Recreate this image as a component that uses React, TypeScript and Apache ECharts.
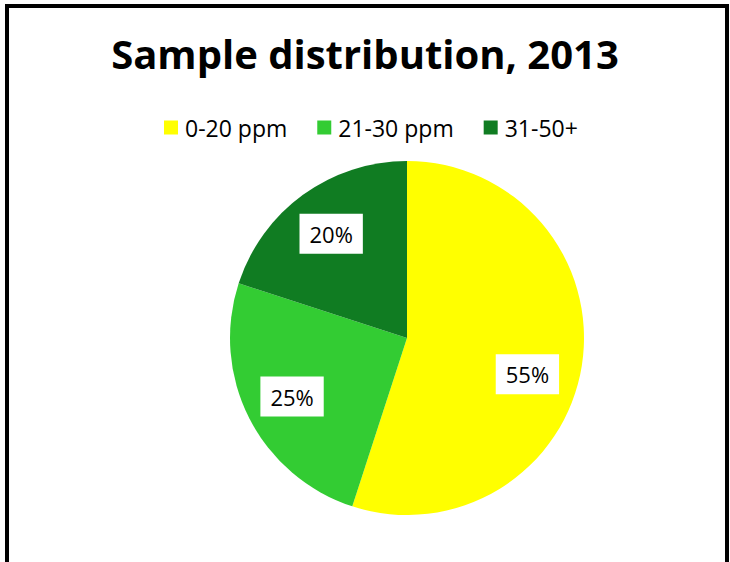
import React, { useEffect, useRef } from "react";
import * as echarts from "echarts";

const categories = ["0-20 ppm", "21-30 ppm", "31-50+"];
const values = [55, 25, 20];
const colors = ["#FFFF00", "#33CC33", "#107C22"];
const titleText = "Sample distribution, 2013";

const FONT = "Open Sans";

export default function App() {
  const ref = useRef<HTMLDivElement>(null);
  useEffect(() => {
    if (!ref.current) return;
    const chart = echarts.init(ref.current, undefined, { renderer: "svg" });
    const labelOffsets: Record<number, number[]> = { 0: [-7, 16] };
    chart.setOption({
      animation: false,
      backgroundColor: "#ffffff",
      title: {
        text: titleText,
        left: "center",
        top: 28,
        textStyle: { fontFamily: FONT, fontWeight: "bold", fontSize: 40, color: "#000" },
      },
      legend: {
        data: categories,
        top: 111,
        left: 159,
        icon: "rect",
        itemWidth: 14,
        itemHeight: 14,
        itemGap: 30,
        textStyle: { fontFamily: FONT, fontSize: 23, color: "#000", padding: [0, 0, 0, 2] },
      },
      series: [
        {
          type: "pie",
          center: [407, 338],
          radius: 177,
          startAngle: 90,
          clockwise: true,
          silent: true,
          label: { show: false },
          labelLine: { show: false },
          itemStyle: { borderWidth: 0 },
          data: categories.map((name, i) => ({
            name,
            value: values[i],
            itemStyle: { color: colors[i] },
          })),
        },
        {
          type: "pie",
          center: [407, 338],
          radius: [75, 177],
          startAngle: 90,
          clockwise: true,
          silent: true,
          legendHoverLink: false,
          labelLine: { show: false },
          itemStyle: { color: "rgba(0,0,0,0)", borderWidth: 0 },
          label: {
            show: true,
            position: "inside",
            formatter: (p: any) => p.value + "%",
            fontFamily: FONT,
            fontSize: 22,
            color: "#000",
            backgroundColor: "#ffffff",
            padding: [8, 10, 8, 10],
            lineHeight: 24,
          },
          data: categories.map((name, i) => ({
            name: name + " ",
            value: values[i],
            label: labelOffsets[i] ? { offset: labelOffsets[i] } : {},
          })),
        },
      ],
    });
    return () => chart.dispose();
  }, []);
  return (
    <div
      style={{
        position: "fixed",
        left: 0,
        top: 0,
        width: 730,
        height: 562,
        overflow: "hidden",
        background: "#fff",
      }}
    >
      <div ref={ref} style={{ position: "absolute", left: 0, top: 0, width: 730, height: 562 }} />
      <div
        style={{
          position: "absolute",
          left: 5,
          top: 4,
          width: 724,
          height: 700,
          boxSizing: "border-box",
          border: "4px solid #000",
          pointerEvents: "none",
        }}
      />
    </div>
  );
}
